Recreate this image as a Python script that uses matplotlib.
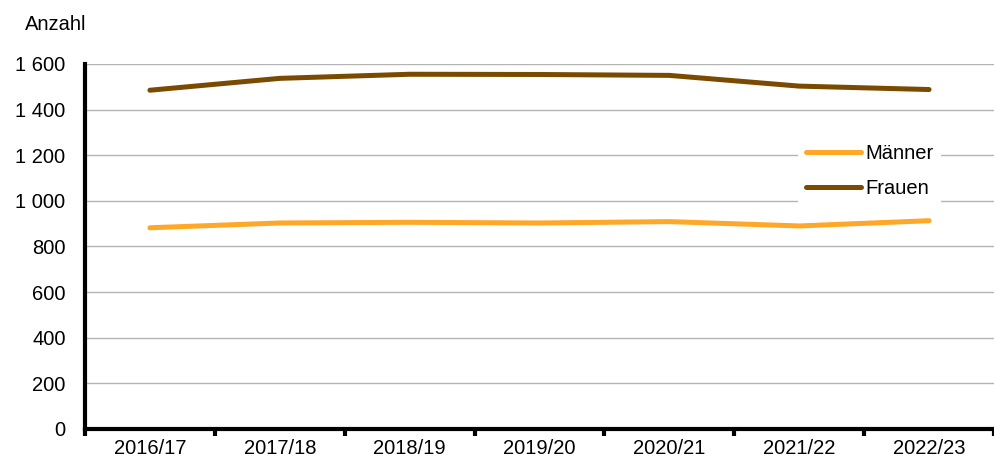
import matplotlib.pyplot as plt
import numpy as np

plt.rcParams['font.family'] = ['Liberation Sans', 'DejaVu Sans']

# Daten
jahre = ['2016/17', '2017/18', '2018/19', '2019/20', '2020/21', '2021/22', '2022/23']
maenner = [882, 903, 906, 903, 909, 890, 913]
frauen = [1485, 1537, 1555, 1554, 1550, 1503, 1488]
yticks = [0, 200, 400, 600, 800, 1000, 1200, 1400, 1600]
ylabels = ['0', '200', '400', '600', '800', '1 000', '1 200', '1 400', '1 600']

fig = plt.figure(figsize=(9.94, 4.62), dpi=100)
ax = fig.add_axes([0.0855, 0.0715, 0.9145, 0.79])

x = np.arange(len(jahre))
ax.plot(x, maenner, color='#FFA726', linewidth=3.6, label='Männer', solid_capstyle='round')
ax.plot(x, frauen, color='#7A4A00', linewidth=3.6, label='Frauen', solid_capstyle='round')

ax.set_xlim(-0.5, len(jahre) - 0.5)
ax.set_ylim(0, 1600)
ax.set_yticks(yticks)
ax.set_yticklabels(ylabels, fontsize=14.5)
ax.tick_params(axis='y', length=0, pad=14)

# Kategorie-Beschriftungen in der Mitte, Teilstriche an den Grenzen
ax.set_xticks(x)
ax.set_xticklabels(jahre, fontsize=14.5)
ax.tick_params(axis='x', length=0, pad=7)
ax.set_xticks(np.arange(len(jahre) + 1) - 0.5, minor=True)
ax.tick_params(axis='x', which='minor', length=5, width=3, color='black')

ax.grid(axis='y', color='#b4b4b4', linewidth=1)
ax.set_axisbelow(True)
for s in ['top', 'right']:
    ax.spines[s].set_visible(False)
ax.spines['left'].set_linewidth(3)
ax.spines['bottom'].set_linewidth(3)

leg = ax.legend(loc='upper left', bbox_to_anchor=(0.773, 0.83), frameon=True,
                fontsize=14.5, handlelength=2.75, handletextpad=0.2,
                labelspacing=0.8, borderpad=0.4)
leg.get_frame().set_edgecolor('none')
leg.get_frame().set_facecolor('white')
leg.get_frame().set_alpha(1)

fig.text(0.025, 0.948, 'Anzahl', fontsize=14.5, va='center')

fig.savefig('out.png', dpi=100)
